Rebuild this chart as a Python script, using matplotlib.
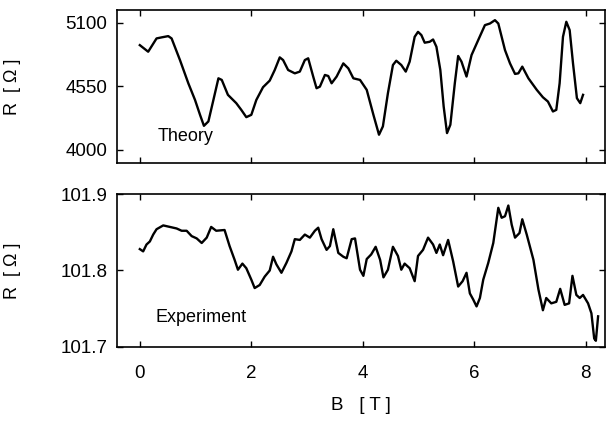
import matplotlib
matplotlib.use("Agg")
import matplotlib.pyplot as plt

plt.rcParams["font.family"] = ["Liberation Sans", "DejaVu Sans"]

# Theory curve (B in T, R in Ohm)
theory_b = [0.00, 0.15, 0.30, 0.39, 0.51, 0.57, 0.72, 0.87, 0.99, 1.08, 1.15, 1.23,
            1.32, 1.41, 1.47, 1.58, 1.73, 1.82, 1.91, 2.00, 2.09, 2.21, 2.33, 2.42,
            2.51, 2.57, 2.66, 2.78, 2.87, 2.96, 3.02, 3.11, 3.17, 3.23, 3.32, 3.38,
            3.44, 3.53, 3.65, 3.74, 3.83, 3.95, 4.07, 4.19, 4.29, 4.36, 4.45, 4.54,
            4.60, 4.69, 4.77, 4.84, 4.93, 4.99, 5.05, 5.11, 5.20, 5.26, 5.32, 5.39,
            5.45, 5.51, 5.57, 5.65, 5.71, 5.77, 5.86, 5.95, 6.07, 6.19, 6.28, 6.37,
            6.43, 6.55, 6.64, 6.73, 6.79, 6.86, 6.97, 7.12, 7.23, 7.32, 7.41, 7.47,
            7.53, 7.59, 7.65, 7.71, 7.77, 7.84, 7.90, 7.95]
theory_r = [4907, 4850, 4965, 4974, 4985, 4965, 4778, 4577, 4433, 4304, 4209, 4247,
            4433, 4620, 4606, 4477, 4405, 4347, 4284, 4304, 4433, 4543, 4600, 4692,
            4801, 4778, 4692, 4663, 4678, 4778, 4793, 4635, 4534, 4548, 4649, 4640,
            4577, 4635, 4749, 4706, 4620, 4606, 4520, 4304, 4132, 4204, 4491, 4735,
            4772, 4735, 4678, 4764, 4979, 5022, 4994, 4928, 4936, 4956, 4893, 4692,
            4376, 4146, 4218, 4577, 4813, 4764, 4635, 4821, 4951, 5080, 5094, 5123,
            5094, 4864, 4749, 4658, 4663, 4721, 4620, 4520, 4456, 4419, 4333, 4347,
            4577, 4979, 5109, 5037, 4749, 4448, 4405, 4477]

# Experiment curve
exp_b = [0.00, 0.06, 0.12, 0.18, 0.24, 0.30, 0.42, 0.54, 0.66, 0.75, 0.84, 0.93,
         1.02, 1.11, 1.20, 1.28, 1.37, 1.52, 1.61, 1.70, 1.76, 1.84, 1.91, 2.00,
         2.06, 2.15, 2.24, 2.33, 2.39, 2.45, 2.54, 2.63, 2.72, 2.78, 2.87, 2.96,
         3.05, 3.14, 3.20, 3.26, 3.35, 3.41, 3.47, 3.56, 3.65, 3.71, 3.80, 3.86,
         3.95, 4.01, 4.07, 4.15, 4.23, 4.31, 4.37, 4.45, 4.54, 4.63, 4.69, 4.75,
         4.84, 4.93, 4.99, 5.08, 5.17, 5.26, 5.32, 5.38, 5.44, 5.53, 5.62, 5.71,
         5.79, 5.86, 5.92, 5.98, 6.04, 6.10, 6.16, 6.25, 6.34, 6.43, 6.49, 6.55,
         6.61, 6.67, 6.73, 6.81, 6.86, 6.94, 7.06, 7.15, 7.23, 7.29, 7.38, 7.47,
         7.54, 7.62, 7.70, 7.76, 7.83, 7.89, 7.95, 8.04, 8.10, 8.15, 8.18, 8.22]
exp_r = [101.828, 101.825, 101.834, 101.838, 101.847, 101.854, 101.859, 101.857,
         101.855, 101.852, 101.852, 101.845, 101.842, 101.836, 101.843, 101.857,
         101.852, 101.853, 101.832, 101.814, 101.801, 101.809, 101.803, 101.788,
         101.777, 101.781, 101.792, 101.800, 101.818, 101.808, 101.797, 101.810,
         101.825, 101.841, 101.840, 101.847, 101.843, 101.852, 101.856, 101.841,
         101.827, 101.832, 101.854, 101.823, 101.818, 101.816, 101.841, 101.842,
         101.801, 101.793, 101.815, 101.821, 101.831, 101.814, 101.791, 101.801,
         101.831, 101.819, 101.801, 101.809, 101.803, 101.786, 101.819, 101.827,
         101.843, 101.834, 101.823, 101.834, 101.820, 101.840, 101.812, 101.779,
         101.786, 101.797, 101.770, 101.762, 101.753, 101.764, 101.788, 101.810,
         101.836, 101.882, 101.869, 101.871, 101.885, 101.860, 101.843, 101.849,
         101.867, 101.847, 101.814, 101.775, 101.748, 101.764, 101.757, 101.759,
         101.776, 101.755, 101.757, 101.793, 101.768, 101.764, 101.768, 101.757,
         101.744, 101.711, 101.708, 101.740]

x_ticks = [0, 2, 4, 6, 8]
theory_ticks = [4000, 4550, 5100]
exp_ticks = [101.7, 101.8, 101.9]

fig = plt.figure(figsize=(6.06, 4.21), dpi=100)
ax1 = fig.add_axes([0.193, 0.613, 0.805, 0.363])
ax2 = fig.add_axes([0.193, 0.176, 0.805, 0.363])

ax1.plot(theory_b, theory_r, color="black", lw=1.7)
ax2.plot(exp_b, exp_r, color="black", lw=1.7)

ax1.set_ylim(3888, 5210)
ax1.set_yticks(theory_ticks)
ax1.set_yticklabels([str(t) for t in theory_ticks])
ax2.set_ylim(101.7, 101.9)
ax2.set_yticks(exp_ticks)
ax2.set_yticklabels(["101.7", "101.8", "101.9"])

for ax in (ax1, ax2):
    ax.set_xlim(-0.41, 8.34)
    ax.set_xticks(x_ticks)
    ax.tick_params(direction="in", length=4, width=1, top=True, right=True,
                   labelsize=13.5)
    ax.tick_params(axis="y", pad=7)
    ax.tick_params(axis="x", pad=13)
    for s in ax.spines.values():
        s.set_linewidth(1.2)
    ax.set_ylabel("R  [ Ω ]", fontsize=13)
    ax.yaxis.set_label_coords(-0.197, 0.5)

ax1.tick_params(labelbottom=False)
ax2.set_xticklabels([str(t) for t in x_ticks])
ax2.set_xlabel("B   [ T ]", fontsize=13.5)
ax2.xaxis.set_label_coords(0.5, -0.33)

ax1.text(0.084, 0.144, "Theory", transform=ax1.transAxes, fontsize=13,
         va="baseline")
ax2.text(0.078, 0.163, "Experiment", transform=ax2.transAxes, fontsize=13,
         va="baseline")

fig.savefig("out.png", dpi=100)
